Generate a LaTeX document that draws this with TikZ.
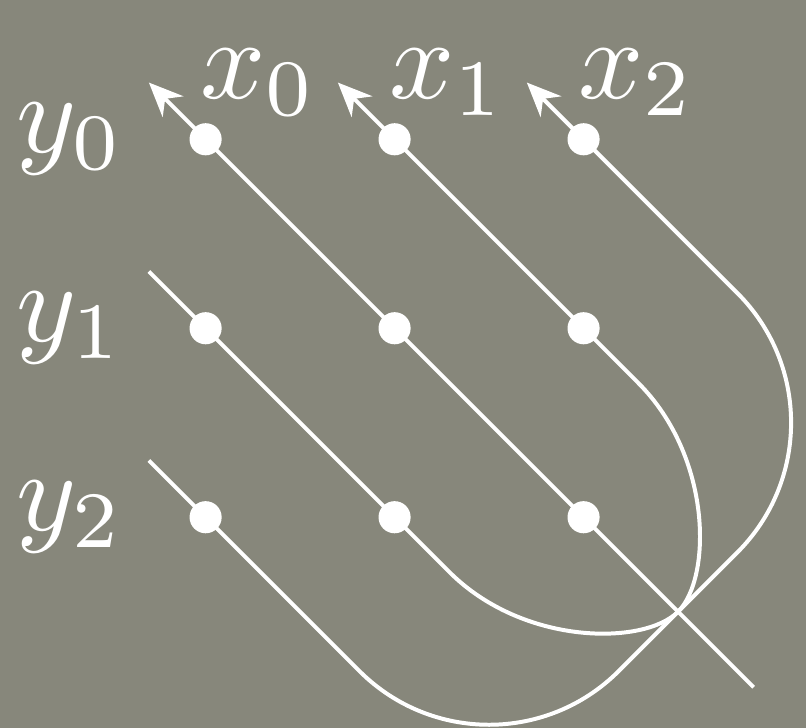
\documentclass[tikz,border=0pt]{standalone}
\usepackage{amsmath,amssymb}
\usepackage{xcolor}
\usepackage{tikz}
\usetikzlibrary{arrows.meta,positioning,calc}
\definecolor{slate}{RGB}{135,135,123}

\begin{document}
\begin{tikzpicture}[
  node distance=1.3mm,
  dot/.style={circle, fill=white, inner sep=0pt, minimum size=1.7mm},
  lbl/.style={text=white, scale=1.72},
  wire/.style={draw=white, semithick},
  arrow/.style={wire, {Stealth[length=1.8mm, width=1.55mm]}-}
]
\fill[slate] (-1.088,-3.115) rectangle (3.177,0.737);
\useasboundingbox (-1.088,-3.115) rectangle (3.177,0.737);
\coordinate (t0) at (-0.3,0.3);
\coordinate (t1) at (0.7,0.3);
\coordinate (t2) at (1.7,0.3);
\coordinate (e0) at (2.9,-2.9);
\coordinate (a1) at (2.29,-1.29);
\coordinate (m1) at (2.5,-2.5);
\coordinate (b1) at (1.29,-2.29);
\coordinate (k2a) at (3.5,-1.5);
\coordinate (k2b) at (1.5,-3.5);
\coordinate (s1) at (-0.3,-0.7);
\coordinate (s2) at (-0.3,-1.7);
\draw[arrow] (t0) -- (e0);
\draw[arrow] (t1) -- (a1) .. controls (2.68,-1.68) and (2.68,-2.32) .. (m1)
  .. controls (2.32,-2.68) and (1.68,-2.68) .. (b1) -- (s1);
\draw[arrow, rounded corners=0.97cm] (t2) -- (k2a) -- (k2b) -- (s2);
\node[dot] (d00) at (0,0) {};
\node[dot] (d10) at (1,0) {};
\node[dot] (d20) at (2,0) {};
\node[dot] (d01) at (0,-1) {};
\node[dot] (d11) at (1,-1) {};
\node[dot] (d21) at (2,-1) {};
\node[dot] (d02) at (0,-2) {};
\node[dot] (d12) at (1,-2) {};
\node[dot] (d22) at (2,-2) {};
\node[lbl, right=0.6mm of t0] (x0) {$x_0$};
\node[lbl, right=0.6mm of t1] (x1) {$x_1$};
\node[lbl, right=0.6mm of t2] (x2) {$x_2$};
\node[lbl, left=of d00] (y0) {$y_0$};
\node[lbl, left=of d01] (y1) {$y_1$};
\node[lbl, left=of d02] (y2) {$y_2$};
\end{tikzpicture}
\end{document}
